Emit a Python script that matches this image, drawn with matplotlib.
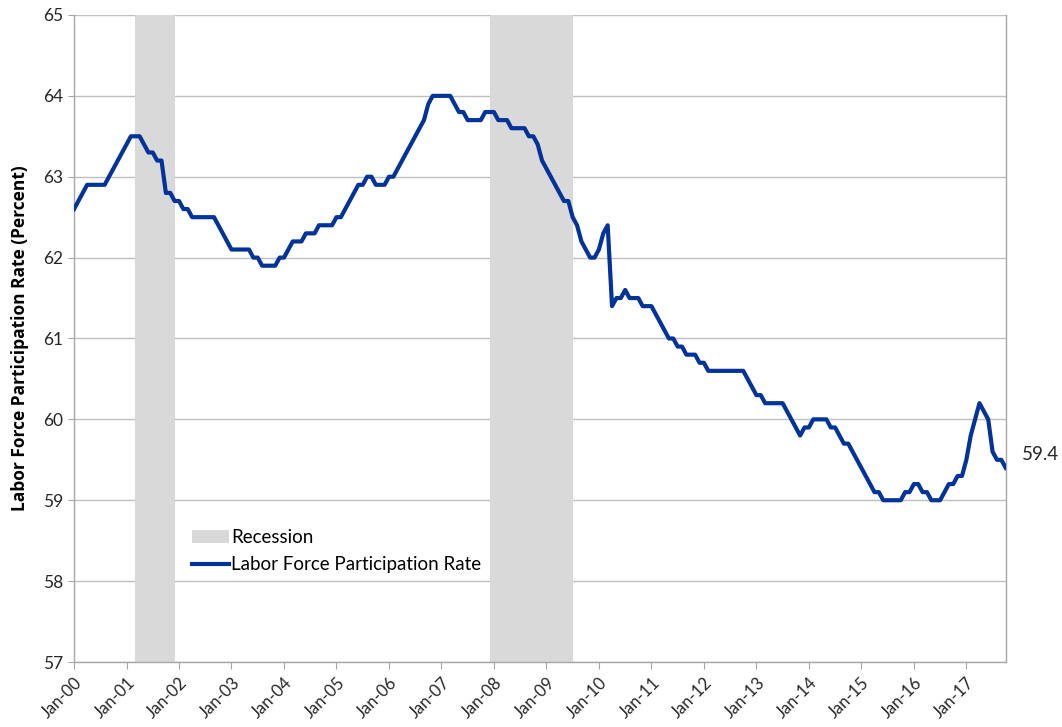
import matplotlib.pyplot as plt
import numpy as np
from matplotlib.patches import Patch
from matplotlib.lines import Line2D

plt.rcParams['font.family'] = ['Lato', 'DejaVu Sans']

# Monthly participation rate, Jan-2000 .. Oct-2017
rate_2000 = [62.6, 62.7, 62.8, 62.9, 62.9, 62.9, 62.9, 62.9, 63.0, 63.1, 63.2, 63.3]
rate_2001 = [63.4, 63.5, 63.5, 63.5, 63.4, 63.3, 63.3, 63.2, 63.2, 62.8, 62.8, 62.7]
rate_2002 = [62.7, 62.6, 62.6, 62.5, 62.5, 62.5, 62.5, 62.5, 62.5, 62.4, 62.3, 62.2]
rate_2003 = [62.1, 62.1, 62.1, 62.1, 62.1, 62.0, 62.0, 61.9, 61.9, 61.9, 61.9, 62.0]
rate_2004 = [62.0, 62.1, 62.2, 62.2, 62.2, 62.3, 62.3, 62.3, 62.4, 62.4, 62.4, 62.4]
rate_2005 = [62.5, 62.5, 62.6, 62.7, 62.8, 62.9, 62.9, 63.0, 63.0, 62.9, 62.9, 62.9]
rate_2006 = [63.0, 63.0, 63.1, 63.2, 63.3, 63.4, 63.5, 63.6, 63.7, 63.9, 64.0, 64.0]
rate_2007 = [64.0, 64.0, 64.0, 63.9, 63.8, 63.8, 63.7, 63.7, 63.7, 63.7, 63.8, 63.8]
rate_2008 = [63.8, 63.7, 63.7, 63.7, 63.6, 63.6, 63.6, 63.6, 63.5, 63.5, 63.4, 63.2]
rate_2009 = [63.1, 63.0, 62.9, 62.8, 62.7, 62.7, 62.5, 62.4, 62.2, 62.1, 62.0, 62.0]
rate_2010 = [62.1, 62.3, 62.4, 61.4, 61.5, 61.5, 61.6, 61.5, 61.5, 61.5, 61.4, 61.4]
rate_2011 = [61.4, 61.3, 61.2, 61.1, 61.0, 61.0, 60.9, 60.9, 60.8, 60.8, 60.8, 60.7]
rate_2012 = [60.7, 60.6, 60.6, 60.6, 60.6, 60.6, 60.6, 60.6, 60.6, 60.6, 60.5, 60.4]
rate_2013 = [60.3, 60.3, 60.2, 60.2, 60.2, 60.2, 60.2, 60.1, 60.0, 59.9, 59.8, 59.9]
rate_2014 = [59.9, 60.0, 60.0, 60.0, 60.0, 59.9, 59.9, 59.8, 59.7, 59.7, 59.6, 59.5]
rate_2015 = [59.4, 59.3, 59.2, 59.1, 59.1, 59.0, 59.0, 59.0, 59.0, 59.0, 59.1, 59.1]
rate_2016 = [59.2, 59.2, 59.1, 59.1, 59.0, 59.0, 59.0, 59.1, 59.2, 59.2, 59.3, 59.3]
rate_2017 = [59.5, 59.8, 60.0, 60.2, 60.1, 60.0, 59.6, 59.5, 59.5, 59.4]

rate = (rate_2000 + rate_2001 + rate_2002 + rate_2003 + rate_2004 + rate_2005
        + rate_2006 + rate_2007 + rate_2008 + rate_2009 + rate_2010 + rate_2011
        + rate_2012 + rate_2013 + rate_2014 + rate_2015 + rate_2016 + rate_2017)

years = list(range(2000, 2018))
tick_labels = ["Jan-%02d" % (y % 100) for y in years]

# recessions as (start year, start month, end year, end month)
recessions = [(2001, 3, 2001, 11), (2007, 12, 2009, 6)]

months = np.arange(len(rate))

def month_index(year, month):
    return (year - 2000) * 12 + (month - 1)

fig = plt.figure(figsize=(10.62, 7.27), dpi=100)
ax = fig.add_axes([0.0697, 0.0894, 0.8773, 0.8900])

for y0, m0, y1, m1 in recessions:
    ax.axvspan(month_index(y0, m0), month_index(y1, m1) + 1,
               color="#d9d9d9", lw=0, zorder=1)

ax.plot(months, rate, color="#003399", lw=3.0, zorder=3,
        solid_joinstyle="round")

ax.set_xlim(0, len(rate) - 1)
ax.set_ylim(57, 65)
ax.set_yticks(range(57, 66))
ax.set_xticks([month_index(y, 1) for y in years])
ax.set_xticklabels(tick_labels, rotation=45, ha="right", rotation_mode="anchor",
                   fontsize=12, color="#262626")
ax.tick_params(axis="y", labelsize=12.5, length=4, color="#a6a6a6")
ax.tick_params(axis="x", length=5, color="#a6a6a6", pad=4)
for lab in ax.get_yticklabels():
    lab.set_color("#262626")

ax.grid(axis="y", color="#bfbfbf", lw=1.0, zorder=0)
ax.set_axisbelow(True)
ax.spines["top"].set_visible(False)
for s in ["left", "bottom", "right"]:
    ax.spines[s].set_color("#a6a6a6")
    ax.spines[s].set_linewidth(1.0)

ax.set_ylabel("Labor Force Participation Rate (Percent)", fontsize=12.5,
              fontweight="bold", family=["Open Sans", "DejaVu Sans"],
              labelpad=10)

ax.annotate("59.4", xy=(months[-1], rate[-1]), xytext=(12, 10),
            textcoords="offset points", fontsize=13.5, va="center", ha="left",
            color="#262626", annotation_clip=False)

handles = [Patch(facecolor="#d9d9d9", edgecolor="none"),
           Line2D([0], [0], color="#003399", lw=3.0)]
ax.legend(handles, ["Recession", "Labor Force Participation Rate"],
          loc="upper left", bbox_to_anchor=(0.108, 0.232), frameon=False,
          fontsize=13.5, handlelength=2.0, handletextpad=0.1, labelspacing=0.55)

plt.savefig("out.png", dpi=100)
plt.close()
